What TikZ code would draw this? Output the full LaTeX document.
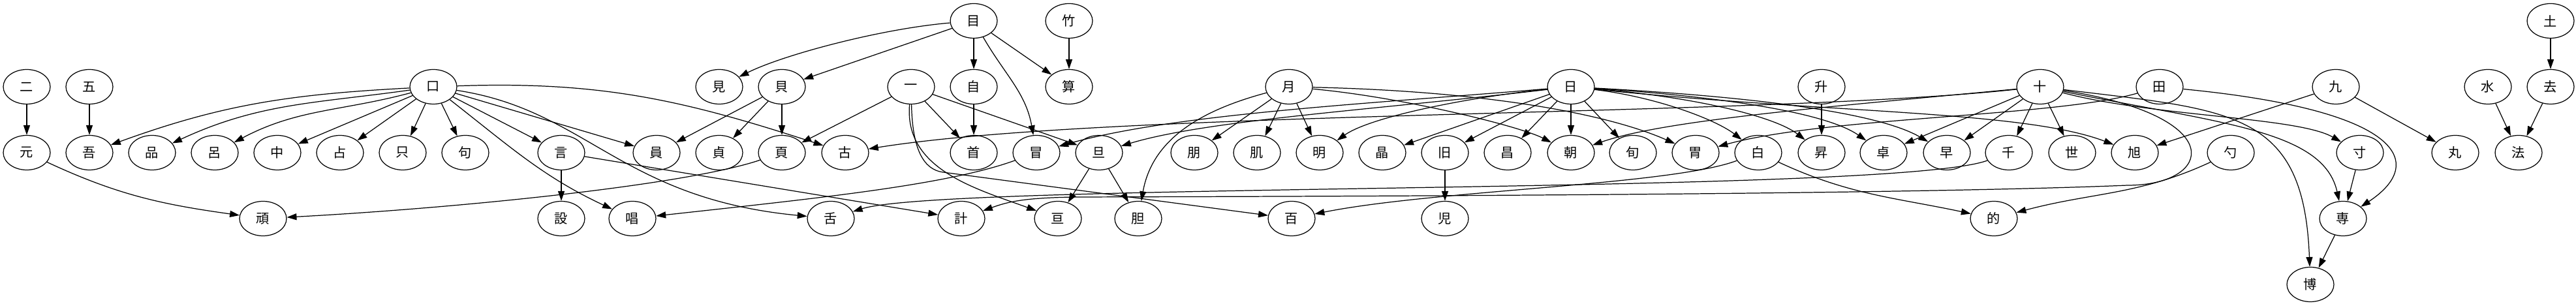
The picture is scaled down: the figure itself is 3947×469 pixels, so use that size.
\documentclass[tikz,border=0pt]{standalone}
\usepackage{fontspec}
\newfontfamily\cjk{Noto Sans CJK JP}
\usetikzlibrary{arrows.meta, shapes.geometric}

\begin{document}
\begin{tikzpicture}[x=0.02cm, y=0.02cm,
        kanji/.style={draw, ellipse, line width=0.7pt, minimum width=1.44cm, minimum height=1.06cm, inner sep=0pt, font=\cjk\fontsize{11.5}{12}\selectfont},
        arr/.style={-{Triangle[length=8.5pt, width=5.7pt]}, line width=0.7pt}]
    \useasboundingbox (0,0) rectangle (3947,469);

    \foreach \n/\t/\x in {me/目/1492, take/竹/1638, tsuchi/土/3908}
        \node[kanji] (\n) at (\x,437) {\t};
    \foreach \n/\t/\x in {ni/二/41, go/五/137, kuchi/口/664, miru/見/1102, kai/貝/1198, ichi/一/1396, ji/自/1492, san/算/1638,
            tsuki/月/1975, hi/日/2407, masu/升/2791, juu/十/3126, ta/田/3309, kyuu/九/3579, mizu/水/3812, kyo/去/3908}
        \node[kanji] (\n) at (\x,336) {\t};
    \foreach \n/\t/\x in {gen/元/41, ware/吾/137, hin/品/233, ro/呂/329, naka/中/425, urana/占/521, tada/只/617, ku/句/713,
            koto/言/860, kazu/員/1006, tei/貞/1102, pe/頁/1198, furu/古/1295, kubi/首/1492, bou/冒/1588, tan/旦/1684,
            hou/朋/1830, hada/肌/1926, mei/明/2022, shou/晶/2118, kyu/旧/2214, masa/昌/2310, asa/朝/2407, jun/旬/2502,
            ibukuro/胃/2598, shiro/白/2694, nobo/昇/2791, taku/卓/2886, haya/早/2983, chi/千/3078, yo/世/3175, asahi/旭/3271,
            shaku/勺/3418, sun/寸/3616, maru/丸/3762, nori/法/3859}
        \node[kanji] (\n) at (\x,235) {\t};
    \foreach \n/\t/\x in {gan/頑/403, setsu/設/860, tonae/唱/969, shita/舌/1273, kei/計/1473, wataru/亘/1621, kimo/胆/1744,
            hyaku/百/1979, ko/児/2214, mato/的/3055, sen/専/3590}
        \node[kanji] (\n) at (\x,134) {\t};
    \node[kanji] (haku) at (3540,33) {博};

    \foreach \a/\b in {ni/gen, go/ware, me/kai, me/ji, me/san, take/san, tsuchi/kyo, kuchi/naka, kuchi/urana, kuchi/tada,
            kuchi/ku, kuchi/koto, kuchi/kazu, kai/kazu, kai/tei, kai/pe, ichi/pe, ichi/kubi, ji/kubi, ichi/tan,
            tsuki/hou, tsuki/hada, tsuki/mei, hi/shou, hi/kyu, hi/masa, hi/asa, hi/jun, masu/nobo, juu/taku, juu/haya,
            juu/chi, juu/yo, kyuu/asahi, kyuu/maru, mizu/nori, kyo/nori, koto/setsu, koto/kei, tan/wataru, tan/kimo,
            kyu/ko, sun/sen, sen/haku}
        \draw[arr] (\a) -- (\b);

    % bent ones
    \draw[arr] (me) .. controls (1350,425) and (1200,385) .. (miru);
    \draw[arr] (me) to[out=-60, in=100] (bou);
    \draw[arr] (kuchi) to[out=183, in=20] (ware);
    \draw[arr] (kuchi) to[out=188, in=25] (hin);
    \draw[arr] (kuchi) to[out=195, in=28] (ro);
    \draw[arr] (kuchi) to[out=2, in=162] (furu);
    \draw[arr] (kuchi) to[out=-38, in=155] (tonae);
    \draw[arr] (kuchi) .. controls (900,300) and (950,165) .. (shita);
    \draw[arr] (gen) to[out=-25, in=172] (gan);
    \draw[arr] (pe) .. controls (1050,185) and (700,150) .. (gan);
    \draw[arr] (bou) .. controls (1450,185) and (1250,165) .. (tonae);
    \draw[arr] (ichi) to[out=-95, in=160] (wataru);
    \draw[arr] (ichi) .. controls (1398,240) and (1415,209) .. (1445,205) -- (hyaku);
    \draw[arr] (tsuki) to[out=195, in=80] (kimo);
    \draw[arr] (tsuki) .. controls (2150,320) and (2330,275) .. (asa);
    \draw[arr] (tsuki) .. controls (2250,330) and (2450,300) .. (ibukuro);
    \draw[arr] (hi) .. controls (2100,310) and (1800,295) .. (bou);
    \draw[arr] (hi) .. controls (2100,300) and (1850,285) .. (tan);
    \draw[arr] (hi) .. controls (2250,320) and (2100,290) .. (mei);
    \draw[arr] (hi) .. controls (2540,320) and (2630,285) .. (shiro);
    \draw[arr] (hi) .. controls (2600,320) and (2720,290) .. (nobo);
    \draw[arr] (hi) .. controls (2650,320) and (2800,295) .. (taku);
    \draw[arr] (hi) .. controls (2700,320) and (2880,295) .. (haya);
    \draw[arr] (hi) .. controls (2800,295) and (3100,300) .. (asahi);
    \draw[arr] (juu) .. controls (2700,290) and (1700,300) .. (furu);
    \draw[arr] (juu) .. controls (2800,305) and (2550,285) .. (asa);
    \draw[arr] (juu) .. controls (3420,290) and (3390,185) .. (3260,185) .. controls (2900,170) and (2000,168) .. (1650,167)
        .. controls (1570,166) and (1545,160) .. (kei);
    \draw[arr] (juu) .. controls (3300,290) and (3520,290) .. (sun);
    \draw[arr] (juu) .. controls (3400,280) and (3560,270) .. (sen);
    \draw[arr] (juu) .. controls (3420,300) and (3530,300) .. (haku);
    \draw[arr] (chi) .. controls (2900,170) and (1450,190) .. (shita);
    \draw[arr] (shiro) .. controls (2560,185) and (2200,178) .. (hyaku);
    \draw[arr] (shiro) to[out=-25, in=168] (mato);
    \draw[arr] (shaku) to[out=205, in=15] (mato);
    \draw[arr] (ta) .. controls (3150,290) and (2800,290) .. (ibukuro);
    \draw[arr] (ta) .. controls (3680,300) and (3720,220) .. (sen);
\end{tikzpicture}
\end{document}
